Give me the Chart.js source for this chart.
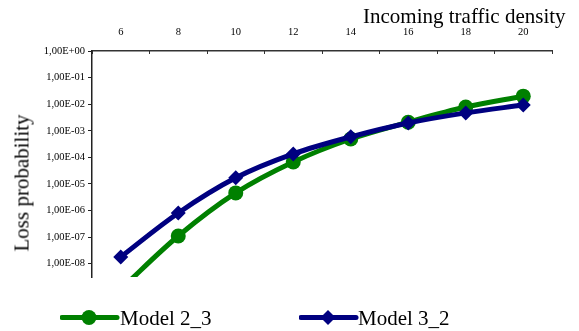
<!DOCTYPE html>
<html>
<head>
<meta charset="utf-8">
<script src="https://cdn.jsdelivr.net/npm/chart.js@4/dist/chart.umd.min.js"></script>
<style>
  body { margin: 0; background: #fff; }
  #wrap {
    position: relative; width: 579px; height: 331px; overflow: hidden;
    font-family: "Liberation Serif", "Times New Roman", serif; color: #000;
  }
  #wrap canvas { position: absolute; left: 0; top: 0; }
  .txt { position: absolute; font-size: 21px; line-height: 21px; white-space: nowrap; }
  #xTitle { left: 363px; top: 6px; }
  #yTitle { left: 22px; top: 183px; transform: translate(-50%, -50%) rotate(-90deg); }
  .swatch { position: absolute; }
</style>
</head>
<body>
<div id="wrap">
  <canvas id="lossChart" width="579" height="331"></canvas>
  <div class="txt" id="xTitle">Incoming traffic density</div>
  <div class="txt" id="yTitle">Loss probability</div>

  <svg class="swatch" style="left:60px;top:309px" width="60" height="17">
    <line x1="2" y1="8.5" x2="57" y2="8.5" stroke="#008000" stroke-width="5" stroke-linecap="round"/>
    <circle cx="29" cy="8.5" r="7.5" fill="#008000"/>
  </svg>
  <div class="txt" style="left:120px;top:308px">Model 2_3</div>

  <svg class="swatch" style="left:299px;top:309px" width="60" height="17">
    <line x1="2" y1="8.5" x2="57" y2="8.5" stroke="#000080" stroke-width="5" stroke-linecap="round"/>
    <polygon points="29,1 36.5,8.5 29,16 21.5,8.5" fill="#000080"/>
  </svg>
  <div class="txt" style="left:358px;top:308px">Model 3_2</div>
</div>

<script>
// incoming traffic density (x categories)
const densities = ["6", "8", "10", "12", "14", "16", "18", "20"];

// loss probability per model
const model23 = [1.1e-9, 1.1e-7, 4.6e-6, 6.7e-5, 4.9e-4, 2.1e-3, 7.8e-3, 2.0e-2];
const model32 = [1.8e-8, 8.1e-7, 1.7e-5, 1.35e-4, 5.9e-4, 1.96e-3, 4.7e-3, 9.3e-3];

// y axis decades shown
const yTicks = [1e-8, 1e-7, 1e-6, 1e-5, 1e-4, 1e-3, 1e-2, 1e-1, 1e0];

const SERIF = "'Liberation Serif', 'Times New Roman', serif";

// 1e-5 -> "1,00E-05"
function excelSci(v) {
  const e = Math.round(Math.log10(v));
  const mant = (v / Math.pow(10, e)).toFixed(2).replace(".", ",");
  return mant + "E" + (e < 0 ? "-" : "+") + String(Math.abs(e)).padStart(2, "0");
}

new Chart(document.getElementById("lossChart").getContext("2d"), {
  type: "line",
  data: {
    labels: densities,
    datasets: [
      {
        label: "Model 3_2",
        data: model32,
        borderColor: "#000080",
        backgroundColor: "#000080",
        borderWidth: 5,
        pointStyle: "rectRot",
        pointRadius: 7.5,
        pointBorderWidth: 0,
        tension: 0.35,
      },
      {
        label: "Model 2_3",
        data: model23,
        borderColor: "#008000",
        backgroundColor: "#008000",
        borderWidth: 5,
        pointStyle: "circle",
        pointRadius: 7.5,
        pointBorderWidth: 0,
        tension: 0.35,
      },
    ],
  },
  options: {
    responsive: false,
    animation: false,
    layout: { padding: { left: 0, top: 0, right: 27, bottom: 54 } },
    plugins: {
      legend: { display: false },
      tooltip: { enabled: false },
    },
    scales: {
      x: {
        type: "category",
        position: "top",
        offset: true,
        // negative length -> tick marks point into the plot, like the original
        grid: { offset: true, drawOnChartArea: false, tickLength: -3, color: "#333" },
        border: { color: "#333", width: 1.5 },
        ticks: { font: { family: SERIF, size: 10.5 }, color: "#000", padding: 15, maxRotation: 0 },
        afterFit: s => { s.height = 51; },
      },
      y: {
        type: "logarithmic",
        min: Math.pow(10, -8.5),
        max: 1,
        grid: { drawOnChartArea: false, tickLength: 4, color: "#222" },
        border: { color: "#222", width: 1.5 },
        ticks: {
          font: { family: SERIF, size: 10.5 },
          color: "#000",
          padding: 3,
          callback: v => excelSci(v),
        },
        afterBuildTicks: s => { s.ticks = yTicks.map(v => ({ value: v })); },
        afterFit: s => { s.width = 92; },
      },
    },
  },
});
</script>
</body>
</html>
